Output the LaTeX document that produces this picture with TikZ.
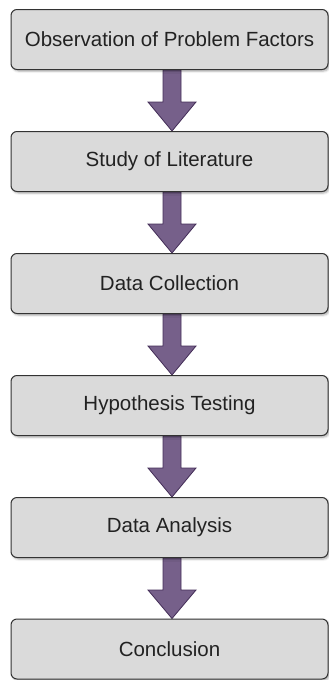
\documentclass[tikz,border=0pt]{standalone}
\usepackage{fontspec}
\setmainfont{Liberation Sans}
\usetikzlibrary{calc,shadows.blur,backgrounds}
\definecolor{boxfill}{HTML}{DADADA}
\definecolor{boxline}{HTML}{333333}
\definecolor{arrfill}{HTML}{76608A}
\definecolor{arrline}{HTML}{432D57}
\definecolor{txt}{HTML}{222222}
\tikzset{
  stepbox/.style={draw=boxline, line width=1pt, fill=boxfill, rounded corners=6pt,
    minimum width=317pt, minimum height=60pt, inner sep=0pt, text=txt,
    font=\fontsize{20.5}{24}\selectfont,
    blur shadow={shadow xshift=1.5pt, shadow yshift=-1.5pt, shadow blur steps=4, shadow opacity=35}},
  bigarrow/.style={draw=arrline, line width=0.8pt, fill=arrfill, line join=miter}
}
\newcommand{\flowarrow}[2]{%
  \draw[bigarrow] ($(#1.south)+(-6.5,0)$) -- ($(#1.south)+(11.5,0)$) -- ($(#1.south)+(11.5,32)$)
    -- ($(#1.south)+(26.5,32)$) -- ($(#2.north)+(2.5,0)$) -- ($(#1.south)+(-21.5,32)$)
    -- ($(#1.south)+(-6.5,32)$) -- cycle;}
\begin{document}
\begin{tikzpicture}[x=1pt,y=-1pt]
\useasboundingbox (0,0) rectangle (329,680);
\node[stepbox] (s1) at (169.5,39.5) {Observation of Problem Factors};
\node[stepbox] (s2) at (169.5,161.5) {Study of Literature};
\node[stepbox] (s3) at (169.5,283.5) {Data Collection};
\node[stepbox] (s4) at (169.5,405.5) {Hypothesis Testing};
\node[stepbox] (s5) at (169.5,527.5) {Data Analysis};
\node[stepbox] (s6) at (169.5,649) {Conclusion};
\begin{pgfonlayer}{background}
\flowarrow{s1}{s2}
\flowarrow{s2}{s3}
\flowarrow{s3}{s4}
\flowarrow{s4}{s5}
\flowarrow{s5}{s6}
\end{pgfonlayer}
\end{tikzpicture}
\end{document}
